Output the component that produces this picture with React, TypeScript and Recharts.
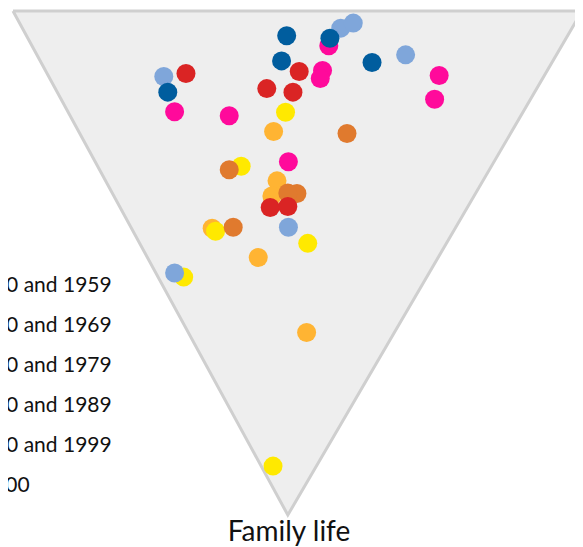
import React from 'react';
import { ScatterChart, Scatter, XAxis, YAxis } from 'recharts';

// Positions inside the inverted triangle: x = across the top edge (0..100), y = depth toward "Family life" vertex (0..100)
const triangleCorners = [
  { x: 0, y: 0 },
  { x: 100, y: 0 },
  { x: 48.3, y: 100 },
  { x: 0, y: 0 },
];

const seriesNames = [
  'Before 1950',
  'Between 1950 and 1959',
  'Between 1960 and 1969',
  'Between 1970 and 1979',
  'Between 1980 and 1989',
  'Between 1990 and 1999',
  'Later than 2000',
];

const seriesColors = ['#FFB433', '#FFE900', '#E07A2E', '#DA2424', '#FF0A9B', '#7FA6DA', '#005D9E'];

const lightOrange = [
  { x: 45.8, y: 23.9 },
  { x: 46.4, y: 33.7 },
  { x: 45.5, y: 36.7 },
  { x: 35.0, y: 43.1 },
  { x: 43.1, y: 48.9 },
  { x: 51.6, y: 63.8 },
];
const yellow = [
  { x: 47.9, y: 20.1 },
  { x: 40.1, y: 30.8 },
  { x: 35.6, y: 43.7 },
  { x: 51.8, y: 46.1 },
  { x: 30.0, y: 52.8 },
  { x: 45.7, y: 90.3 },
];
const darkOrange = [
  { x: 58.7, y: 24.3 },
  { x: 38.0, y: 31.5 },
  { x: 49.9, y: 36.2 },
  { x: 48.3, y: 36.1 },
  { x: 38.7, y: 42.9 },
];
const red = [
  { x: 30.4, y: 12.4 },
  { x: 50.3, y: 12.0 },
  { x: 44.6, y: 15.4 },
  { x: 49.2, y: 16.1 },
  { x: 45.2, y: 39.0 },
  { x: 48.3, y: 38.8 },
];
const magenta = [
  { x: 55.5, y: 6.9 },
  { x: 54.4, y: 11.8 },
  { x: 54.0, y: 13.4 },
  { x: 74.9, y: 12.8 },
  { x: 74.1, y: 17.5 },
  { x: 28.4, y: 20.0 },
  { x: 38.0, y: 20.8 },
  { x: 48.4, y: 29.9 },
];
const lightBlue = [
  { x: 57.6, y: 3.4 },
  { x: 59.8, y: 2.4 },
  { x: 69.0, y: 8.7 },
  { x: 26.5, y: 13.0 },
  { x: 48.4, y: 42.9 },
  { x: 28.4, y: 52.0 },
];
const darkBlue = [
  { x: 48.1, y: 4.9 },
  { x: 55.7, y: 5.4 },
  { x: 47.2, y: 9.9 },
  { x: 63.1, y: 10.2 },
  { x: 27.2, y: 16.1 },
];

const seriesData = [lightOrange, yellow, darkOrange, red, magenta, lightBlue, darkBlue];

const axisTitle = 'Family life';

const FONT = 'Lato, "Noto Sans", sans-serif';

export default function App() {
  return (
    <div style={{ position: 'relative', width: 575, height: 539 }}>
      <ScatterChart width={575} height={539} margin={{ top: 3, right: 1, bottom: 32, left: 5 }}>
        <XAxis type="number" dataKey="x" domain={[0, 100]} hide />
        <YAxis type="number" dataKey="y" domain={[0, 100]} reversed hide />
        <Scatter
          data={triangleCorners}
          isAnimationActive={false}
          line={{ stroke: '#cfcfcf', strokeWidth: 3, fill: '#eeeeee' }}
          lineJointType="linear"
          shape={() => <g />}
        />
        {seriesData.map((d, i) => (
          <Scatter
            key={seriesNames[i]}
            name={seriesNames[i]}
            data={d}
            isAnimationActive={false}
            fill={seriesColors[i]}
            shape={(p: any) => <circle cx={p.cx} cy={p.cy} r={9.5} fill={seriesColors[i]} />}
          />
        ))}
      </ScatterChart>
      <div style={{ position: 'absolute', left: -126, top: 216, fontFamily: FONT, fontSize: 21, color: '#111' }}>
        {seriesNames.map((n) => (
          <div key={n} style={{ height: 40, lineHeight: '40px', whiteSpace: 'nowrap' }}>
            {n}
          </div>
        ))}
      </div>
      <div
        style={{
          position: 'absolute',
          left: 281 - 150,
          width: 300,
          top: 508,
          textAlign: 'center',
          fontFamily: FONT,
          fontSize: 28,
          lineHeight: '28px',
          color: '#111',
          whiteSpace: 'nowrap',
        }}
      >
        {axisTitle}
      </div>
    </div>
  );
}
